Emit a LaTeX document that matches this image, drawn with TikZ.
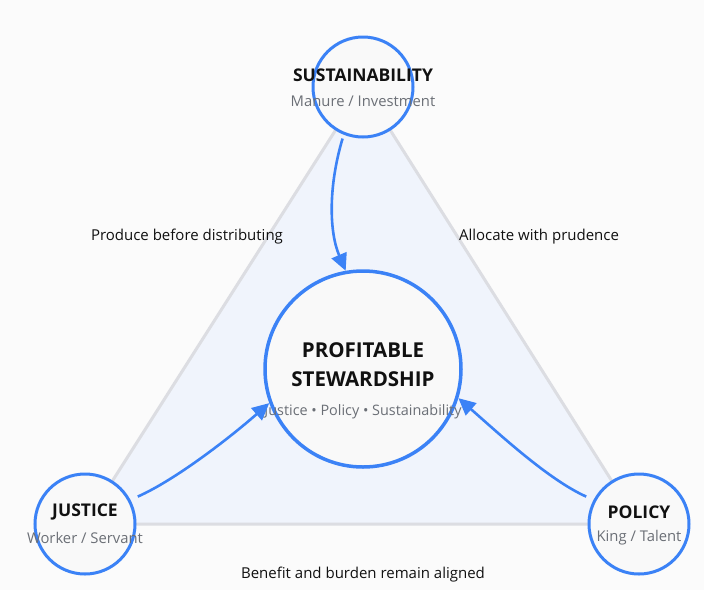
\documentclass[tikz,border=0pt]{standalone}
\usepackage{fontspec}
\setmainfont{Open Sans}
\usetikzlibrary{arrows.meta,calc}
\definecolor{accent}{HTML}{3B82F6}
\definecolor{edgegray}{HTML}{DCDDE2}
\definecolor{panel}{HTML}{F0F4FC}
\definecolor{subgray}{HTML}{6B6F76}
\definecolor{bg}{HTML}{FBFBFB}
\definecolor{disc}{HTML}{F9F9F9}
\definecolor{ink}{HTML}{111111}

\begin{document}
\begin{tikzpicture}[x=1pt, y=-1pt,
    corner/.style={circle, draw=accent, line width=3pt, fill=disc, minimum size=100pt, inner sep=0pt},
    hubnode/.style={circle, draw=accent, line width=3.5pt, fill=disc, minimum size=196pt, inner sep=0pt},
    title/.style={font=\bfseries\fontsize{17.5}{20}\selectfont, text=ink, inner sep=0pt},
    bigtitle/.style={font=\fontsize{20.5}{29}\selectfont\bfseries, text=ink, align=center, inner sep=0pt},
    sub/.style={font=\fontsize{14.8}{17}\selectfont, text=subgray, inner sep=0pt},
    side/.style={font=\fontsize{15}{17}\selectfont, text=ink, inner sep=0pt},
    flow/.style={draw=accent, line width=2.6pt, -{Triangle[length=17pt,width=16pt]}}]
    \fill[bg] (0,0) rectangle (704,590);

    % Corners of the triangle
    \coordinate (pS) at (363,87);
    \coordinate (pJ) at (85,524);
    \coordinate (pP) at (639,524);
    \draw[edgegray, line width=3pt, fill=panel, line join=round] (pS) -- (pJ) -- (pP) -- cycle;

    % Side labels
    \node[side] (lleft) at (187,237) {Produce before distributing};
    \node[side] (lright) at (539,237) {Allocate with prudence};
    \node[side] (lbottom) at (363,575) {Benefit and burden remain aligned};

    % Hub
    \node[hubnode] (hub) at (363,369) {};
    \node[bigtitle] (hubt) at ($(hub)+(0,-4)$) {PROFITABLE\\STEWARDSHIP};
    \node[sub, font=\fontsize{14.4}{17}\selectfont] (hubs) at ($(hub)+(0,43)$) {Justice • Policy • Sustainability};

    % Corner circles
    \foreach \name/\pos/\ttl/\sbt in {sus/pS/SUSTAINABILITY/{Manure / Investment},
                                      jus/pJ/JUSTICE/{Worker / Servant},
                                      pol/pP/POLICY/{King / Talent}} {
        \node[corner] (\name) at (\pos) {};
        \node[title] (\name t) at ($(\name)+(0,-12)$) {\ttl};
        \node[sub] (\name s) at ($(\name)+(0,14)$) {\sbt};
    }

    % Flows into the hub
    \draw[flow, shorten <=4pt] (sus.248) .. controls +(-15,50) and +(-17,-40) .. (hub.100);
    \draw[flow, shorten <=8pt] (jus.28) .. controls +(45,-20) and +(-40,35) .. (hub.200);
    \draw[flow, shorten <=8pt] (pol.152) .. controls +(-45,-20) and +(40,35) .. (hub.343);
\end{tikzpicture}
\end{document}
